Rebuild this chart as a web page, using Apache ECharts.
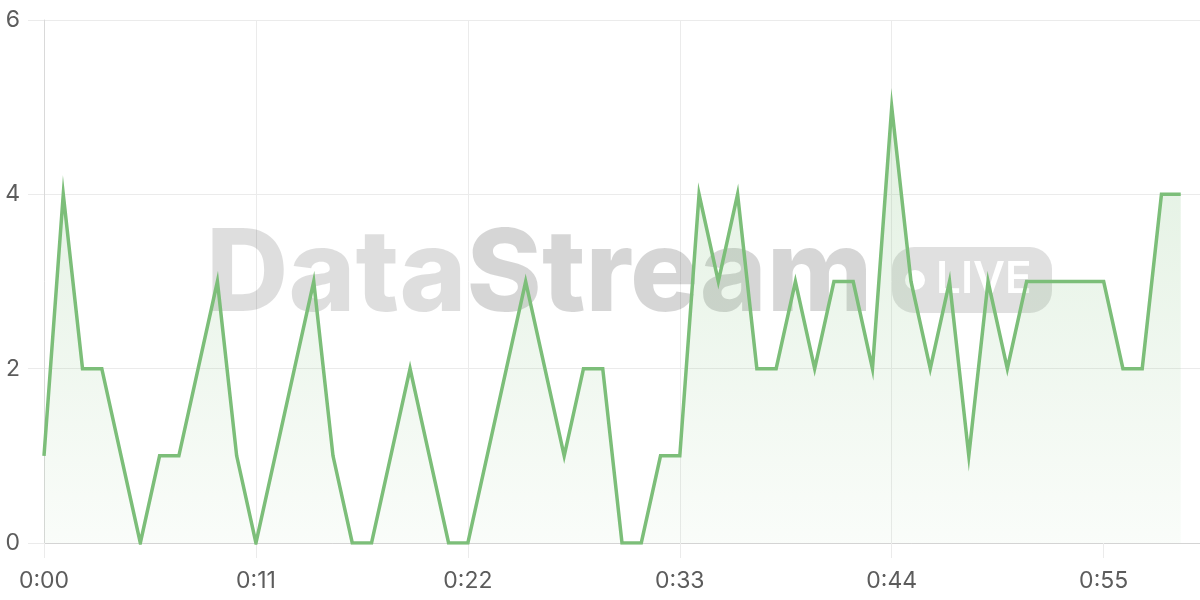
<!DOCTYPE html>
<html>
<head>
<meta charset="utf-8">
<script src="https://cdn.jsdelivr.net/npm/echarts@6/dist/echarts.min.js"></script>
<style>
html,body{margin:0;padding:0;background:#fff;}
#chart{width:1200px;height:600px;}
</style>
</head>
<body>
<div id="chart"></div>
<script>
// Seconds elapsed (x) and event counts (y)
const seconds = [0,1,2,3,4,5,6,7,8,9,10,11,12,13,14,15,16,17,18,19,20,21,22,23,24,25,26,27,28,29,30,31,32,33,34,35,36,37,38,39,40,41,42,43,44,45,46,47,48,49,50,51,52,53,54,55,56,57,58,59];
const counts  = [1,4,2,2,1,0,1,1,2,3,1,0,1,2,3,1,0,0,1,2,1,0,0,1,2,3,2,1,2,2,0,0,1,1,4,3,4,2,2,3,2,3,3,2,5,3,2,3,1,3,2,3,3,3,3,3,2,2,4,4];
const xTickValues = [0,11,22,33,44,55];
const xTickLabels = ['0:00','0:11','0:22','0:33','0:44','0:55'];

const chart = echarts.init(document.getElementById('chart'), null, {renderer:'canvas'});
const labelFont = 'Inter, "Noto Sans", sans-serif';
const gridColor = '#ebebeb';

chart.setOption({
  animation: false,
  backgroundColor: '#ffffff',
  grid: {left: 44, right: 0, top: 20, bottom: 57, containLabel: false},
  graphic: [
    {
      type: 'text', z: 1, left: 206, top: 220,
      style: {
        text: '{a|Data}{b|Stream}',
        rich: {
          a: {fontFamily: 'Inter, sans-serif', fontWeight: 800, fontSize: 114, fill: 'rgba(0,0,0,0.13)'},
          b: {fontFamily: 'Inter, sans-serif', fontWeight: 800, fontSize: 114, fill: 'rgba(0,0,0,0.16)'}
        }
      }
    },
    {
      type: 'rect', z: 1,
      shape: {x: 892, y: 247, width: 160, height: 66, r: 22},
      style: {fill: 'rgba(0,0,0,0.12)'}
    },
    {
      type: 'circle', z: 1,
      shape: {cx: 915, cy: 280, r: 10},
      style: {fill: '#ffffff'}
    },
    {
      type: 'text', z: 1, x: 936, y: 280,
      style: {
        text: 'LIVE', fontFamily: 'Inter, sans-serif', fontWeight: 600, fontSize: 44,
        fill: '#ffffff', verticalAlign: 'middle', align: 'left'
      }
    }
  ],
  xAxis: {
    type: 'value', min: 0, max: 60, interval: 11,
    axisLine: {show: true, lineStyle: {color: '#d4d4d4', width: 1}},
    axisTick: {show: true, length: 15, lineStyle: {color: gridColor}, customValues: xTickValues},
    axisLabel: {
      show: true, margin: 27, color: '#5c5c5c', fontSize: 23, fontFamily: labelFont,
      customValues: xTickValues,
      formatter: function (v) { const i = xTickValues.indexOf(v); return i >= 0 ? xTickLabels[i] : ''; }
    },
    splitLine: {show: true, showMaxLine: false, lineStyle: {color: gridColor, width: 1}}
  },
  yAxis: {
    type: 'value', min: 0, max: 6, interval: 2,
    axisLine: {show: true, lineStyle: {color: '#d9d9d9', width: 1}},
    axisTick: {show: true, length: 16, lineStyle: {color: gridColor}},
    axisLabel: {show: true, margin: 24, color: '#5c5c5c', fontSize: 23, fontFamily: labelFont},
    splitLine: {show: true, lineStyle: {color: gridColor, width: 1}}
  },
  series: [{
    type: 'line', z: 3,
    data: seconds.map((s, i) => [s, counts[i]]),
    showSymbol: false, symbol: 'none',
    lineStyle: {color: '#7cbe79', width: 3.5, join: 'miter', miterLimit: 20},
    itemStyle: {color: '#7cbe79'},
    areaStyle: {
      color: new echarts.graphic.LinearGradient(0, 0, 0, 1, [
        {offset: 0, color: 'rgba(124,190,121,0.32)'},
        {offset: 1, color: 'rgba(124,190,121,0.06)'}
      ])
    }
  }]
});
</script>
</body>
</html>
